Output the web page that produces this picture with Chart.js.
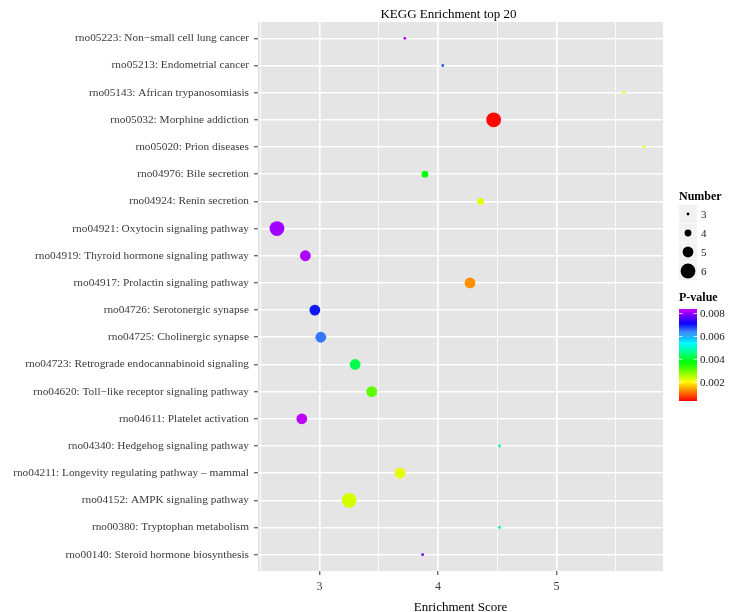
<!DOCTYPE html>
<html><head><meta charset="utf-8">
<script src="https://cdn.jsdelivr.net/npm/chart.js@4/dist/chart.umd.min.js"></script>
<style>html,body{margin:0;padding:0;background:#fff;overflow:hidden}#wrap{width:737px;height:612px;position:relative}</style>
</head><body><div id="wrap"><canvas id="c" width="737" height="612"></canvas></div>
<script>
const pathways = [
  "rno05223: Non\u2212small cell lung cancer",
  "rno05213: Endometrial cancer",
  "rno05143: African trypanosomiasis",
  "rno05032: Morphine addiction",
  "rno05020: Prion diseases",
  "rno04976: Bile secretion",
  "rno04924: Renin secretion",
  "rno04921: Oxytocin signaling pathway",
  "rno04919: Thyroid hormone signaling pathway",
  "rno04917: Prolactin signaling pathway",
  "rno04726: Serotonergic synapse",
  "rno04725: Cholinergic synapse",
  "rno04723: Retrograde endocannabinoid signaling",
  "rno04620: Toll\u2212like receptor signaling pathway",
  "rno04611: Platelet activation",
  "rno04340: Hedgehog signaling pathway",
  "rno04211: Longevity regulating pathway \u2013 mammal",
  "rno04152: AMPK signaling pathway",
  "rno00380: Tryptophan metabolism",
  "rno00140: Steroid hormone biosynthesis"
];
const enrichmentScore = [3.72, 4.04, 5.57, 4.47, 5.74, 3.89, 4.36, 2.64, 2.88, 4.27, 2.96, 3.01, 3.30, 3.44, 2.85, 4.52, 3.68, 3.25, 4.52, 3.87];
const geneNumber = [3, 3, 3, 6, 3, 4, 4, 6, 5, 5, 5, 5, 5, 5, 5, 3, 5, 6, 3, 3];
const pValue = [0.0082, 0.0067, 0.0021, 0.0004, 0.0021, 0.0037, 0.0022, 0.0081, 0.0082, 0.0013, 0.0070, 0.0065, 0.0042, 0.0031, 0.0083, 0.0046, 0.0022, 0.0023, 0.0046, 0.0077];
const xTickValues = [2.5, 3, 3.5, 4, 4.5, 5, 5.5];
const sizeLegendValues = [3, 4, 5, 6];
const colorLegendValues = [0.008, 0.006, 0.004, 0.002];
const pRange = [0.00035, 0.0084];

const SERIF = "'Liberation Serif', 'DejaVu Serif', serif";
function radiusFor(n) { return 1.4 + (n - 3) * 2; }
function colorFor(p) {
  let t = (p - pRange[0]) / (pRange[1] - pRange[0]);
  t = Math.max(0, Math.min(1, t));
  const h = t * 288;
  const light = 50 + 12 * Math.max(0, 1 - Math.abs(h - 215) / 30);
  return 'hsl(' + h.toFixed(1) + ',100%,' + light.toFixed(1) + '%)';
}

const points = pathways.map((name, i) => ({ x: enrichmentScore[i], y: i + 1, r: radiusFor(geneNumber[i]) }));

const panelBg = {
  id: 'panelBg',
  beforeDraw(chart) {
    const { ctx, chartArea: a } = chart;
    ctx.save();
    ctx.fillStyle = '#e5e5e5';
    ctx.fillRect(a.left, a.top, a.right - a.left, a.bottom - a.top);
    ctx.restore();
  }
};

const extras = {
  id: 'extras',
  afterDraw(chart) {
    const ctx = chart.ctx;
    ctx.save();
    ctx.fillStyle = '#000';
    ctx.font = '13px ' + SERIF;
    ctx.textAlign = 'center';
    ctx.textBaseline = 'alphabetic';
    ctx.fillText('KEGG Enrichment top 20', 448.5, 18);
    ctx.textAlign = 'left';
    ctx.font = 'bold 12px ' + SERIF;
    ctx.fillText('Number', 679, 200);
    ctx.font = '11px ' + SERIF;
    const boxX = 679, boxW = 18, boxH = 18.5;
    sizeLegendValues.forEach((n, i) => {
      const cy = 214 + i * 19;
      ctx.fillStyle = '#f2f2f2';
      ctx.fillRect(boxX, cy - boxH / 2, boxW, boxH);
      ctx.fillStyle = '#000';
      ctx.beginPath();
      ctx.arc(boxX + boxW / 2, cy, radiusFor(n), 0, Math.PI * 2);
      ctx.fill();
      ctx.textBaseline = 'middle';
      ctx.fillStyle = '#1a1a1a';
      ctx.fillText(String(n), 701, cy + 1);
    });
    ctx.textBaseline = 'alphabetic';
    ctx.fillStyle = '#000';
    ctx.font = 'bold 12px ' + SERIF;
    ctx.fillText('P-value', 679, 301);
    const cbTop = 309, cbBot = 401, cbX = 679, cbW = 18;
    const pAt = y => pRange[1] - (y - cbTop) / (cbBot - cbTop) * (pRange[1] - pRange[0]);
    for (let y = cbTop; y < cbBot; y++) {
      ctx.fillStyle = colorFor(pAt(y + 0.5));
      ctx.fillRect(cbX, y, cbW, 1);
    }
    ctx.font = '11px ' + SERIF;
    ctx.textBaseline = 'middle';
    colorLegendValues.forEach(v => {
      const y = cbTop + (pRange[1] - v) / (pRange[1] - pRange[0]) * (cbBot - cbTop);
      ctx.strokeStyle = 'rgba(255,255,255,0.8)';
      ctx.lineWidth = 1;
      ctx.beginPath();
      ctx.moveTo(cbX, y); ctx.lineTo(cbX + 3.5, y);
      ctx.moveTo(cbX + cbW - 3.5, y); ctx.lineTo(cbX + cbW, y);
      ctx.stroke();
      ctx.fillStyle = '#1a1a1a';
      ctx.fillText(v.toFixed(3), 700, y + 1);
    });
    ctx.restore();
  }
};

new Chart(document.getElementById('c'), {
  type: 'bubble',
  data: {
    datasets: [{
      label: 'Pathways',
      data: points,
      backgroundColor: ctx => colorFor(pValue[ctx.dataIndex]),
      borderWidth: 0,
      hoverBorderWidth: 0
    }]
  },
  options: {
    responsive: false,
    animation: false,
    events: [],
    layout: { padding: { left: 0, right: 74, top: 22, bottom: 0 } },
    plugins: { legend: { display: false }, tooltip: { enabled: false }, title: { display: false } },
    scales: {
      x: {
        type: 'linear', min: 2.48, max: 5.90,
        afterBuildTicks: s => { s.ticks = xTickValues.map(v => ({ value: v })); },
        ticks: {
          autoSkip: false, maxRotation: 0, padding: 5,
          callback: v => Number.isInteger(v) ? String(v) : '',
          font: { family: SERIF, size: 12 }, color: '#3a3a3a'
        },
        grid: {
          color: '#ffffff',
          lineWidth: c => (c.tick && Number.isInteger(c.tick.value)) ? 1.6 : 0.8,
          tickColor: c => (c.tick && Number.isInteger(c.tick.value)) ? '#333333' : 'rgba(0,0,0,0)',
          tickWidth: 1,
          tickLength: 4
        },
        border: { display: false },
        title: { display: true, text: 'Enrichment Score', font: { family: SERIF, size: 13 }, color: '#000', padding: { top: 0, bottom: -3 } },
        afterFit: s => { s.height = 41; }
      },
      y: {
        type: 'linear', reverse: true, min: 0.4, max: 20.6,
        afterBuildTicks: s => { s.ticks = pathways.map((_, i) => ({ value: i + 1 })); },
        ticks: {
          autoSkip: false, padding: 5,
          callback: v => pathways[v - 1],
          font: { family: SERIF, size: 11.3 }, color: '#3a3a3a'
        },
        grid: { color: '#ffffff', lineWidth: 1.6, tickColor: '#333333', tickWidth: 1, tickLength: 4 },
        border: { display: false },
        afterFit: s => { s.width = 258; }
      }
    }
  },
  plugins: [panelBg, extras]
});
</script>
</body></html>
